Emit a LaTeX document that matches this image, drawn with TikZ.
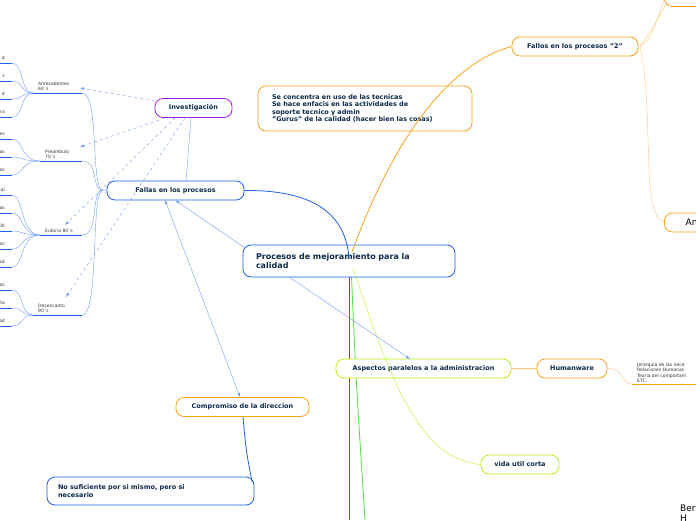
\documentclass[tikz,border=0pt]{standalone}
\usepackage{fontspec}
\setmainfont{DejaVu Sans}
\usetikzlibrary{positioning}
\definecolor{navy}{HTML}{0B2A4A}
\definecolor{mblue}{HTML}{1E5EF0}
\definecolor{lblue}{HTML}{6E9CF5}
\definecolor{morange}{HTML}{F7A11A}
\definecolor{lorange}{HTML}{FBC57A}
\definecolor{mpurple}{HTML}{A21CE8}
\definecolor{mlime}{HTML}{B8F01C}
\definecolor{mgreen}{HTML}{4CE23A}
\tikzset{
  topic/.style={draw=#1,thick,rounded corners=8pt,fill=white,font=\fontsize{6.5}{8}\selectfont\bfseries,text=navy,inner xsep=8pt},
  leaf/.style={font=\fontsize{4.5}{5.5}\selectfont,text=black!80,align=left,inner sep=1pt},
}
\begin{document}
\begin{tikzpicture}[x=1pt,y=-1pt]
\useasboundingbox (0,0) rectangle (696,520);

%main lines from centre
\draw[mpurple,thick] (349,258) -- (349,520);
\draw[mgreen,thick] (351,265) .. controls (356,380) .. (365,520);
\draw[lorange] (640,46) .. controls (650,40) .. (664,0);
\draw[lorange] (640,46) .. controls (652,30) .. (668,0);
\draw[lorange] (640,46) .. controls (655,120) and (640,215) .. (664,222);

%centre
\node[topic=mblue,font=\fontsize{8}{9.5}\selectfont\bfseries,minimum width=212pt,minimum height=32pt,align=left,text width=186pt] (centro) at (349,261) {Procesos de mejoramiento para la\\calidad};

%first level
\node[topic=mblue,minimum width=137pt,minimum height=19pt] (fallas) at (175.5,190.5) {Fallas en los procesos};
\node[topic=mpurple,minimum width=77pt,minimum height=19pt] (invest) at (193.5,108) {Investigación};
\node[topic=morange,minimum width=214pt,minimum height=45pt,align=left,text width=186pt,font=\fontsize{6.5}{7.5}\selectfont\bfseries] (tecnica) at (365,108.5) {Se concentra en uso de las tecnicas\\Se hace enfacis en las actividades de\\soporte tecnico y admin\\"Gurus" de la calidad (hacer bien las cosas)};
\node[topic=morange,minimum width=126pt,minimum height=19pt] (fallos2) at (575,46.5) {Fallos en los procesos "2"};
\node[topic=morange,minimum width=60pt,minimum height=19pt,anchor=west,font=\fontsize{9}{10}\selectfont,text=black] (gu) at (664,-3) {Gu};
\node[topic=morange,minimum width=60pt,minimum height=19pt,anchor=west,font=\fontsize{9}{10}\selectfont,text=black] (ana) at (664,222.5) {Ana};
\node[topic=mlime,minimum width=175pt,minimum height=19pt] (aspectos) at (423.5,368.5) {Aspectos paralelos a la administracion};
\node[topic=morange,minimum width=70pt,minimum height=19pt] (human) at (572,368.5) {Humanware};
\node[topic=mlime,minimum width=78pt,minimum height=19pt] (vida) at (520,464.5) {vida util corta};
\node[topic=morange,minimum width=133pt,minimum height=19pt] (compromiso) at (242.5,407) {Compromiso de la direccion};
\node[topic=mblue,minimum width=207pt,minimum height=28pt,align=left,text width=185pt] (nosuf) at (150.5,491) {No suficiente por si mismo, pero si\\necesario};
\node[leaf,anchor=south west] (jerarq) at (636,384) {Jerarquia de las nece\\Relaciones Humanas\\Teoria del comportam\\ETC.};
\node[anchor=north west,font=\fontsize{9}{10}\selectfont,inner sep=0pt,align=left] (ber) at (680,505) {Ber\\H};

%connectors
\draw[morange,thick] (352,252) .. controls (400,120) and (460,60) .. (fallos2.west);
\draw[mlime] (353,268) .. controls (390,380) and (420,460) .. (vida.west);
\draw[mblue,thick] (349,258) .. controls (345,205) and (300,190) .. (fallas.east);
\draw[lblue,-latex] (289,277) -- (410,359);
\draw[lblue,-latex] (245,248) -- (fallas.south);
\draw[lblue,latex-latex] (165,200) -- (240,397);
\draw[mblue,thick] (243,417) .. controls (246,450) .. (252,482);
\draw[lblue] (186,181) -- (191,118);
\draw[lorange] (human.east) .. controls (625,368) and (620,384) .. (632,384);
\draw[morange,thick] (632,384) -- (696,384);
\draw[lorange] (aspectos.east) -- (human.west);

%left tree
\coordinate (hub) at (103,190);
\foreach \nm/\x/\y/\txt in {ante/33/93/{Antecedentes\\60´s},pream/40/161/{Preambulo\\70´s},eufo/40/235/{Euforia 80´s},desen/33/315/{Desencanto\\90´s}} {
  \draw[mblue,thick] (\x,\y) -- (82,\y);
  \draw[lblue] (82,\y) .. controls (100,\y) and (90,190) .. (hub);
  \node[leaf,anchor=south west] (\nm) at (\x+4,\y-1) {\txt};
}
\draw[lblue] (hub) -- (fallas.west);
\foreach \y/\px/\py/\txt in {63/33/93/d,81/33/93/s,99/33/93/d,117/33/93/ra,
  139/40/161/ores,157/40/161/mas,175/40/161/stos,
  195/40/235/otal,213/40/235/sas,231/40/235/000,249/40/235/cios,267/40/235/dad,
  290/33/315/esos,308/33/315/esta,326/33/315/idad} {
  \draw[mblue,thick] (0,\y) -- (12,\y);
  \draw[lblue] (12,\y) .. controls (24,\y) and (20,\py) .. (\px,\py);
  \node[leaf,anchor=south east] at (6,\y-2) {\txt};
}
\foreach \tx/\ty/\fx/\fy in {80/88/155/101,80/147/165/118,65/225/175/118,66/297/185/118} {
  \draw[lblue,dashed,-latex] (\fx,\fy) -- (\tx,\ty);
}
\end{tikzpicture}
\end{document}
